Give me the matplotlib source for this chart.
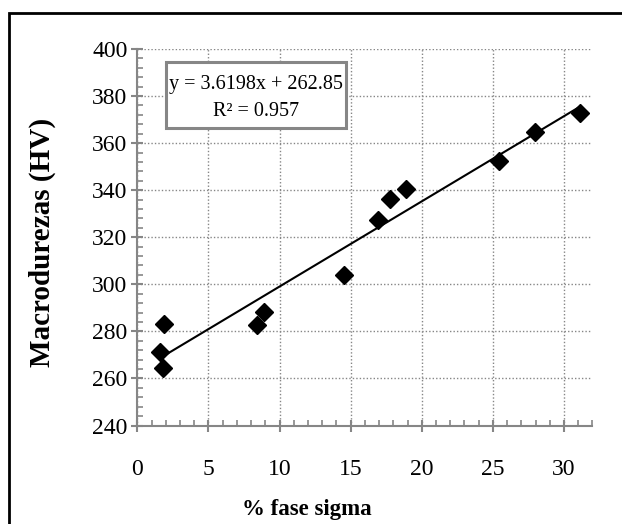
import matplotlib
matplotlib.use("Agg")
import matplotlib.pyplot as plt
import numpy as np
from matplotlib.patches import Rectangle
from matplotlib.ticker import MultipleLocator

# Sigma phase content (%) vs. macro-hardness (HV)
sigma_pct = [1.90, 1.60, 1.83, 8.40, 8.92, 14.50, 16.92, 17.78, 18.91, 25.40, 27.94, 31.10]
hardness_hv = [283.1, 271.1, 264.5, 282.7, 288.3, 303.9, 327.2, 336.4, 340.5, 352.3, 364.8, 373.0]

# Linear trendline coefficients and fit quality
slope = 3.6198
intercept = 262.85
r_squared = 0.957

x_ticks = [0, 5, 10, 15, 20, 25, 30]
y_ticks = [240, 260, 280, 300, 320, 340, 360, 380, 400]

plt.rcParams["font.family"] = ["Liberation Serif", "DejaVu Serif"]

W, H = 622, 524
fig = plt.figure(figsize=(W / 100, H / 100), dpi=100)
ax = fig.add_axes([137.3 / W, 1 - 425.5 / H, (592.4 - 137.3) / W, (425.5 - 49) / H])

axis_gray = "#868686"

ax.set_xlim(0, 32)
ax.set_ylim(240, 400)
ax.set_xticks(x_ticks)
ax.set_yticks(y_ticks)
ax.xaxis.set_minor_locator(MultipleLocator(1))
ax.yaxis.set_minor_locator(MultipleLocator(4))

ax.grid(True, which="major", color=axis_gray, linestyle=(0, (1, 1.5)), linewidth=1.0)
ax.set_axisbelow(True)

for side in ("top", "right"):
    ax.spines[side].set_visible(False)
for side in ("left", "bottom"):
    ax.spines[side].set_color(axis_gray)
    ax.spines[side].set_linewidth(1.5)

ax.tick_params(which="major", direction="inout", length=8, width=1.5, color=axis_gray,
               labelsize=17, labelcolor="black")
ax.tick_params(axis="x", which="major", pad=20)
ax.tick_params(axis="y", which="major", pad=3)
ax.tick_params(which="minor", direction="in", length=4, width=1.2, color=axis_gray)

# Trendline across the data range
xs = np.array([min(sigma_pct), max(sigma_pct)])
ax.plot(xs, slope * xs + intercept, color="black", linewidth=1.5, zorder=3)

ax.plot(sigma_pct, hardness_hv, linestyle="none", marker="D", markersize=9.5,
        markerfacecolor="black", markeredgecolor="black", zorder=4)

# Equation label with its framed box
box_x0, box_x1 = 0.063, 0.458
box_y0, box_y1 = 0.790, 0.9655
ax.add_patch(Rectangle((box_x0, box_y0), box_x1 - box_x0, box_y1 - box_y0,
                       transform=ax.transAxes, facecolor="white",
                       edgecolor=axis_gray, linewidth=2.2, zorder=5))
ax.text((box_x0 + box_x1) / 2, box_y0 + 0.66 * (box_y1 - box_y0),
        f"y = {slope}x + {intercept}", transform=ax.transAxes,
        ha="center", va="center", fontsize=14.5, zorder=6)
ax.text((box_x0 + box_x1) / 2, box_y0 + 0.25 * (box_y1 - box_y0),
        f"R² = {r_squared}", transform=ax.transAxes,
        ha="center", va="center", fontsize=14.5, zorder=6)

ax.set_xlabel("% fase sigma", fontsize=16.5, fontweight="bold")
ax.xaxis.set_label_coords((307 - 137.3) / (592.4 - 137.3), (425.5 - 509) / (425.5 - 49))
ax.xaxis.label.set_va("center")
ax.set_ylabel("Macrodurezas (HV)", fontsize=21, fontweight="bold")
ax.yaxis.set_label_coords((42 - 137.3) / (592.4 - 137.3), (425.5 - 242) / (425.5 - 49))
ax.yaxis.label.set_va("center")

# Chart-area frame
fig.patches.append(Rectangle((9 / W, -0.2), 1.2, 1 - 13 / H + 0.2,
                             transform=fig.transFigure, fill=False,
                             edgecolor="black", linewidth=2))

fig.savefig("out.png", dpi=100)
